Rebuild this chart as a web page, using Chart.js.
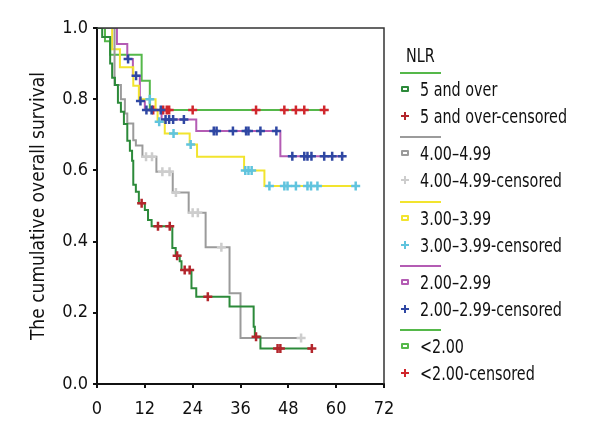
<!DOCTYPE html>
<html><head><meta charset="utf-8">
<script src="https://cdn.jsdelivr.net/npm/chart.js@4.4.1/dist/chart.umd.min.js"></script>
<style>
html,body{margin:0;padding:0;background:#fff;}
#wrap{position:relative;width:600px;height:440px;overflow:hidden;}
#c{position:absolute;left:0;top:0;}
#legend{position:absolute;left:0;top:0;width:600px;height:440px;pointer-events:none;
  font-family:"Liberation Sans Narrow","DejaVu Sans Condensed",sans-serif;font-size:19px;color:#111;}
.lt{position:absolute;white-space:nowrap;line-height:22px;height:22px;transform:scaleX(0.84);transform-origin:0 50%;}
.ln{position:absolute;height:2px;}
.sq{position:absolute;width:4px;height:2px;border-width:2px;border-style:solid;border-radius:1px;}
.cr{position:absolute;width:8px;height:8px;}
</style></head>
<body><div id="wrap"><canvas id="c" width="600" height="440"></canvas><div id="legend"></div></div>
<script>
// ---- data ----
const legendTitle = 'NLR';
const groupNames = ['5 and over', '4.00–4.99', '3.00–3.99', '2.00–2.99', '<2.00'];
const censorSuffix = '-censored';
const yAxisTitle = 'The cumulative overall survival';
const xTicks = [0, 12, 24, 36, 48, 60, 72];
const yTicks = [0.0, 0.2, 0.4, 0.6, 0.8, 1.0];

// 5 and over
const t5 = [0, 1.3, 3.3, 3.8, 4.5, 5.25, 6, 6.75, 7.6, 8.25, 8.8, 9.1, 9.75, 10.5, 12, 12.8, 13.7, 18.9, 19.75, 20.75, 21.2, 23.7, 24.9, 33.25, 39.3, 39.6, 41, 54];
const s5 = [1, 0.975, 0.90, 0.86, 0.84, 0.79, 0.765, 0.73, 0.683, 0.655, 0.627, 0.56, 0.54, 0.508, 0.489, 0.461, 0.443, 0.382, 0.36, 0.345, 0.32, 0.269, 0.245, 0.218, 0.161, 0.133, 0.10, 0.10];
const c5t = [11.2, 15.3, 18.25, 20.1, 22, 23.25, 27.8, 39.9, 45.3, 46, 53.9];
const c5s = [0.508, 0.443, 0.443, 0.36, 0.32, 0.32, 0.245, 0.133, 0.10, 0.10, 0.10];

// 4.00–4.99
const t4 = [0, 4.4, 6, 7, 7.6, 9.1, 9.75, 11.4, 14.9, 19, 23, 27.25, 33.25, 36, 51.5];
const s4 = [1, 0.84, 0.80, 0.76, 0.732, 0.685, 0.67, 0.638, 0.596, 0.538, 0.481, 0.384, 0.255, 0.129, 0.129];
const c4t = [12.3, 13.8, 16.4, 18.2, 19.8, 24, 25.3, 31.2, 51.2];
const c4s = [0.638, 0.638, 0.596, 0.596, 0.538, 0.481, 0.481, 0.384, 0.129];

// 3.00–3.99
const t3 = [0, 3.8, 5.75, 9.1, 10.5, 14.7, 15.2, 17, 23.25, 25.1, 36.9, 42, 65.5];
const s3 = [1, 0.94, 0.89, 0.838, 0.80, 0.77, 0.737, 0.704, 0.673, 0.638, 0.60, 0.556, 0.556];
const c3t = [13.25, 15.6, 19.2, 23.5, 37.2, 38, 38.8, 43.25, 47, 47.8, 49.9, 52.8, 53.7, 55.3, 64.9];
const c3s = [0.80, 0.737, 0.704, 0.673, 0.60, 0.60, 0.60, 0.556, 0.556, 0.556, 0.556, 0.556, 0.556, 0.556, 0.556];

// 2.00–2.99
const t2 = [0, 5, 7.6, 9, 10.75, 12, 16.2, 24.9, 46, 62];
const s2 = [1, 0.955, 0.913, 0.866, 0.795, 0.77, 0.743, 0.711, 0.64, 0.64];
const c2t = [7.8, 9.8, 10.9, 12.4, 13.7, 16, 17.2, 18.1, 19.1, 21.8, 29.3, 30, 34.1, 37.4, 38, 41, 45, 49, 52, 52.8, 53.8, 57, 59, 61.5];
const c2s = [0.913, 0.866, 0.795, 0.77, 0.77, 0.77, 0.743, 0.743, 0.743, 0.743, 0.711, 0.711, 0.711, 0.711, 0.711, 0.711, 0.711, 0.64, 0.64, 0.64, 0.64, 0.64, 0.64, 0.64];

// <2.00
const t1 = [0, 2, 3.3, 11.2, 13.25, 58];
const s1 = [1, 0.963, 0.925, 0.852, 0.77, 0.77];
const c1t = [14.1, 16.6, 17.5, 18.1, 24, 39.9, 47, 49.9, 52, 57];
const c1s = [0.77, 0.77, 0.77, 0.77, 0.77, 0.77, 0.77, 0.77, 0.77, 0.77];

// ---- styles ----
const lineColors = ['#2c8a3a', '#9b9b9b', '#f2e42e', '#b45cb4', '#55b84a'];
const censorColors = ['#b3262c', '#cdcdcd', '#60c4de', '#2f47a3', '#d0262c'];
const FONT = '"Liberation Sans Narrow", "DejaVu Sans Condensed", sans-serif';

const curveT = [t5, t4, t3, t2, t1];
const curveS = [s5, s4, s3, s2, s1];
const censT = [c5t, c4t, c3t, c2t, c1t];
const censS = [c5s, c4s, c3s, c2s, c1s];

const pts = (ts, ss) => ts.map((t, i) => ({x: t, y: ss[i]}));

const datasets = [];
groupNames.forEach((g, i) => {
  datasets.push({
    label: g, data: pts(curveT[i], curveS[i]), stepped: 'before',
    borderColor: lineColors[i], borderWidth: 2, pointRadius: 0, fill: false, order: 2
  });
});
groupNames.forEach((g, i) => {
  datasets.push({
    label: g + censorSuffix, data: pts(censT[i], censS[i]), showLine: false,
    pointStyle: 'cross', pointRadius: 4.5, pointBorderWidth: 2.5,
    borderColor: censorColors[i], backgroundColor: censorColors[i], order: 1
  });
});

const boxPlugin = {
  id: 'box',
  afterDraw(chart) {
    const a = chart.chartArea, ctx = chart.ctx;
    ctx.save();
    ctx.strokeStyle = '#333';
    ctx.lineWidth = 1.5;
    ctx.beginPath();
    ctx.moveTo(a.left, a.top);
    ctx.lineTo(a.right, a.top);
    ctx.lineTo(a.right, a.bottom);
    ctx.stroke();
    ctx.restore();
  }
};

new Chart(document.getElementById('c'), {
  type: 'line',
  data: { datasets },
  options: {
    responsive: false, animation: false,
    layout: { padding: { left: 0, right: 216, top: 28, bottom: 0 } },
    plugins: { legend: { display: false }, tooltip: { enabled: false } },
    scales: {
      x: {
        type: 'linear', min: 0, max: 72,
        afterBuildTicks: s => { s.ticks = xTicks.map(v => ({value: v})); },
        afterFit: s => { s.height = 56; },
        grid: { display: true, drawOnChartArea: false, drawTicks: true, tickLength: 4, color: '#111', lineWidth: 2 },
        border: { display: true, color: '#111', width: 2 },
        ticks: { color: '#111', padding: 11, font: { family: FONT, size: 18 }, maxRotation: 0 }
      },
      y: {
        type: 'linear', min: 0, max: 1,
        afterBuildTicks: s => { s.ticks = yTicks.map(v => ({value: v})); },
        afterFit: s => { s.width = 97; },
        grid: { display: true, drawOnChartArea: false, drawTicks: true, tickLength: 4, color: '#111', lineWidth: 2 },
        border: { display: true, color: '#111', width: 2 },
        ticks: { color: '#111', padding: 5, font: { family: FONT, size: 18 }, callback: v => Number(v).toFixed(1) },
        title: { display: true, text: yAxisTitle, color: '#111', font: { family: FONT, size: 19 }, padding: { top: 28, bottom: 0 } }
      }
    }
  },
  plugins: [boxPlugin]
});

// ---- HTML legend ----
const L = document.getElementById('legend');
function add(cls, css, text) {
  const d = document.createElement('div');
  d.className = cls;
  Object.assign(d.style, css);
  if (text !== undefined) d.textContent = text;
  L.appendChild(d);
  return d;
}
add('lt', {left: '406px', top: (55 - 11) + 'px'}, legendTitle);
groupNames.forEach((g, i) => {
  const base = 73 + i * 64.3;
  add('ln', {left: '400px', top: (base - 1) + 'px', width: '41px', background: lineColors[i === 0 ? 4 : i]});
  add('sq', {left: '401px', top: (base + 16 - 3) + 'px', borderColor: lineColors[i]});
  add('lt', {left: '420px', top: (base + 16 - 11) + 'px'}, g);
  const cr = add('cr', {left: '401px', top: (base + 43 - 4) + 'px'});
  const v = document.createElement('div');
  Object.assign(v.style, {position: 'absolute', left: '3px', top: '0', width: '2px', height: '8px', background: censorColors[i]});
  const h = document.createElement('div');
  Object.assign(h.style, {position: 'absolute', left: '0', top: '3px', width: '8px', height: '2px', background: censorColors[i]});
  cr.appendChild(v); cr.appendChild(h);
  add('lt', {left: '420px', top: (base + 43 - 11) + 'px'}, g + censorSuffix);
});
</script></body></html>
